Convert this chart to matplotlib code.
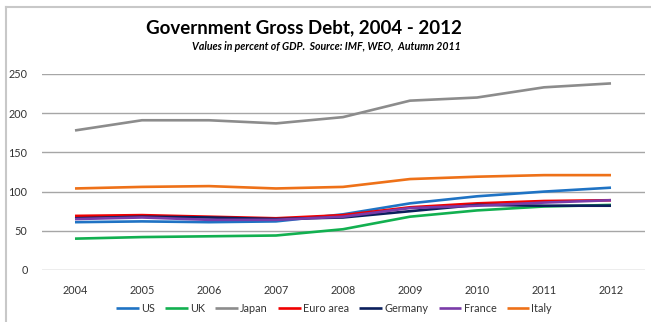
import matplotlib
matplotlib.use('Agg')
import matplotlib.pyplot as plt
from matplotlib.lines import Line2D

years = ['2004', '2005', '2006', '2007', '2008', '2009', '2010', '2011', '2012']
us = [61, 62, 61, 62, 71, 85, 94, 100, 105]
uk = [40, 42, 43, 44, 52, 68, 76, 81, 83]
japan = [178, 191, 191, 187, 195, 216, 220, 233, 238]
euro_area = [69, 70, 68, 66, 70, 80, 85, 88, 89]
germany = [66, 68, 67, 65, 67, 75, 83, 82, 82]
france = [65, 67, 64, 64, 68, 79, 82, 86, 89]
italy = [104, 106, 107, 104, 106, 116, 119, 121, 121]

series = [
    ('US', us, '#1F73C4'),
    ('UK', uk, '#12B050'),
    ('Japan', japan, '#8C8C8C'),
    ('Euro area', euro_area, '#F00000'),
    ('Germany', germany, '#0B1F5C'),
    ('France', france, '#7A3BA8'),
    ('Italy', italy, '#EE7118'),
]

plt.rcParams['font.family'] = ['Lato', 'DejaVu Sans']

W, H = 651, 322
fig = plt.figure(figsize=(W / 100, H / 100), dpi=100)
ax = fig.add_axes([41.5 / W, 1 - 270 / H, 603 / W, 196 / H])

x = list(range(len(years)))
for name, vals, color in series:
    ax.plot(x, vals, color=color, linewidth=1.9, label=name, solid_capstyle='butt')

ax.set_xlim(-0.5, len(years) - 0.5)
ax.set_ylim(0, 250)
ax.set_yticks(range(0, 251, 50))
ax.set_xticks(x)
ax.set_xticklabels(years)
ax.yaxis.grid(True, color='#A6A6A6', linewidth=1.0)
ax.set_axisbelow(True)
for s in ax.spines.values():
    s.set_visible(False)
ax.tick_params(length=0, labelsize=7.8, labelcolor='#333333')
ax.tick_params(axis='x', pad=11)
ax.tick_params(axis='y', pad=10)

fig.text(0.467, 1 - 28 / H, 'Government Gross Debt, 2004 - 2012',
         ha='center', va='center', fontsize=13.5, fontweight='bold')
fig.text(0.502, 1 - 47 / H, 'Values in percent of GDP.  Source: IMF, WEO,  Autumn 2011',
         ha='center', va='center', fontsize=7.6, fontweight='bold', style='italic')

fig.legend(loc='center', bbox_to_anchor=(0.513, 1 - 308 / H), ncol=7, frameon=False,
           fontsize=7.8, handlelength=2.1, handletextpad=0.2, columnspacing=0.95,
           labelcolor='#333333')

# partial outer frame, as in the source
fig.add_artist(Line2D([6 / W, 6 / W], [0, 1 - 7 / H], color='#C8C8C8', linewidth=1.5))
fig.add_artist(Line2D([6 / W, 1], [1 - 7 / H, 1 - 7 / H], color='#C8C8C8', linewidth=1.5))

fig.savefig('out.png', dpi=100)
